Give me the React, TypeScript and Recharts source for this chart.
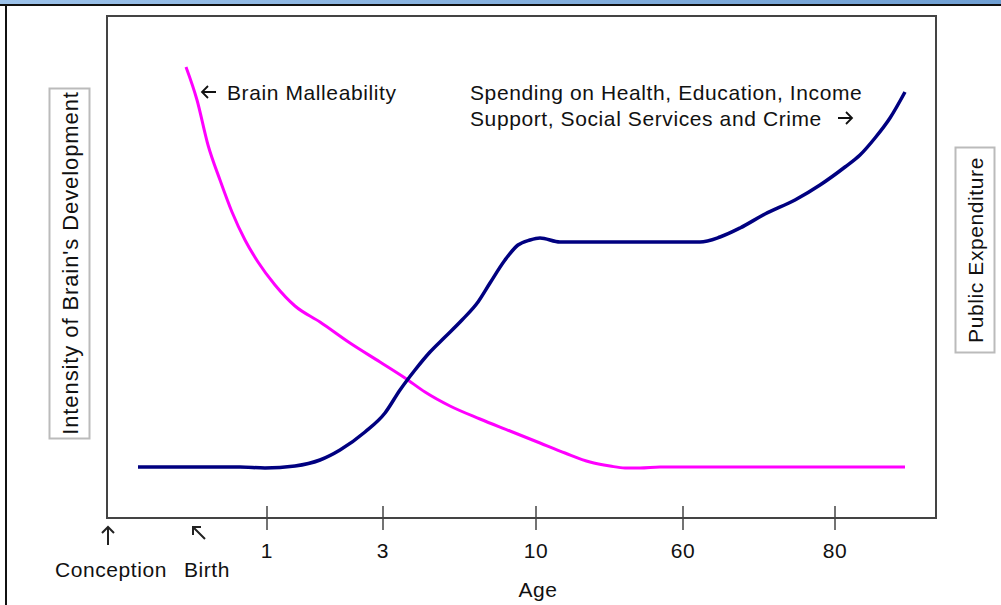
import React from 'react';
import { LineChart, Line, XAxis, YAxis, ReferenceArea } from 'recharts';

// x positions are on a 0..829 "age track" scale (non-linear age axis)
const brainX = [79, 90, 101, 113, 125, 138, 151, 168, 188, 213, 243, 273, 298, 318, 343, 373, 403, 433, 458, 483, 503, 518, 533, 553, 593, 693, 798];
const brainY = [451, 418, 373, 338, 306, 278, 256, 233, 212, 196, 175, 156, 140, 126, 112, 99, 87, 75, 65, 56, 52, 50, 50, 51, 51, 51, 51];

const spendX = [31, 133, 158, 188, 213, 233, 258, 278, 293, 308, 323, 338, 355, 371, 383, 398, 411, 423, 433, 453, 493, 593, 613, 633, 658, 688, 713, 738, 753, 768, 783, 798];
const spendY = [51, 51, 50, 52, 58, 68, 86, 105, 128, 148, 166, 181, 198, 216, 235, 258, 273, 278, 280, 276, 276, 276, 281, 290, 304, 318, 333, 351, 363, 380, 400, 426];

const tickPos = [1, 86, 160, 276, 429, 576, 728];
const tickLabels = ['Conception', 'Birth', '1', '3', '10', '60', '80'];

const brainData = brainX.map((x, i) => ({ x, y: brainY[i] }));
const spendData = spendX.map((x, i) => ({ x, y: spendY[i] }));

const FONT = '"Liberation Sans", Arial, sans-serif';
const LS = 0.6;

const AgeTick = (props: any) => {
    const { x, y, payload } = props;
    const idx = tickPos.indexOf(payload.value);
    const label = tickLabels[idx];
    if (idx === 0) {
        return (
            <g>
                <path d={`M${x},${y + 27} L${x},${y + 9} M${x - 6},${y + 15} L${x},${y + 9} L${x + 6},${y + 15}`} stroke="#222" strokeWidth={2} fill="none" />
                <text x={x + 3} y={y + 59} textAnchor="middle" fontSize={21} letterSpacing={LS} fill="#111" fontFamily={FONT}>{label}</text>
            </g>
        );
    }
    if (idx === 1) {
        return (
            <g>
                <path d={`M${x + 12},${y + 21} L${x},${y + 9} M${x},${y + 17} L${x},${y + 9} L${x + 8},${y + 9}`} stroke="#222" strokeWidth={2} fill="none" />
                <text x={x + 14} y={y + 59} textAnchor="middle" fontSize={21} letterSpacing={LS} fill="#111" fontFamily={FONT}>{label}</text>
            </g>
        );
    }
    return (
        <g>
            <line x1={x} x2={x} y1={y - 12} y2={y + 12} stroke="#444" strokeWidth={1.5} />
            <text x={x} y={y + 40} textAnchor="middle" fontSize={21} letterSpacing={LS} fill="#111" fontFamily={FONT}>{label}</text>
        </g>
    );
};

export default function App() {
    return (
        <div style={{ position: 'absolute', left: 0, top: 0, width: 1001, height: 605, background: '#fff', overflow: 'hidden' }}>
            <div style={{ position: 'absolute', left: 0, top: 0, width: 1001, height: 4, background: 'linear-gradient(to right, #9cc2ea, #6f9fd3)' }} />
            <div style={{ position: 'absolute', left: 0, top: 4, width: 1001, height: 2, background: '#111' }} />
            <div style={{ position: 'absolute', left: 5, top: 4, width: 2, height: 601, background: '#111' }} />
            <LineChart
                width={1001}
                height={605}
                data={brainData}
                margin={{ top: 16, right: 65, left: 107, bottom: 0 }}
            >
                <XAxis
                    type="number"
                    dataKey="x"
                    domain={[0, 829]}
                    ticks={tickPos}
                    tick={<AgeTick />}
                    tickSize={0}
                    tickMargin={0}
                    tickLine={false}
                    axisLine={false}
                    height={87}
                    interval={0}
                    allowDataOverflow
                />
                <YAxis type="number" domain={[0, 502]} hide allowDataOverflow />
                <ReferenceArea x1={0} x2={829} y1={0} y2={502} fill="none" stroke="#444" strokeWidth={2} ifOverflow="visible" />
                <Line data={brainData} dataKey="y" type="monotone" stroke="#ff00ff" strokeWidth={3} dot={false} isAnimationActive={false} />
                <Line data={spendData} dataKey="y" type="monotone" stroke="#000080" strokeWidth={3.5} dot={false} isAnimationActive={false} />
            </LineChart>
            <svg style={{ position: 'absolute', left: 0, top: 0, pointerEvents: 'none' }} width={1001} height={605}>
                <g stroke="#111" strokeWidth={1.8} fill="none">
                    <path d="M202,92 L216,92 M208,86 L202,92 L208,98" />
                    <path d="M838,118 L852,118 M846,112 L852,118 L846,124" />
                </g>
                <g fontFamily={FONT} fill="#111" fontSize={21} letterSpacing={LS}>
                    <text x={227} y={100}>Brain Malleability</text>
                    <text x={470} y={100}>Spending on Health, Education, Income</text>
                    <text x={470} y={126}>Support, Social Services and Crime</text>
                    <text x={538} y={597} textAnchor="middle">Age</text>
                </g>
                <rect x={49.5} y={88.5} width={40} height={350} fill="#fff" stroke="#bbb" strokeWidth={2} />
                <text x={0} y={0} transform="translate(78,263) rotate(-90)" textAnchor="middle" fontFamily={FONT} fontSize={22} letterSpacing={0.9} fill="#111">Intensity of Brain's Development</text>
                <rect x={955.5} y={147.5} width={39} height={205} fill="#fff" stroke="#bbb" strokeWidth={2} />
                <text x={0} y={0} transform="translate(983,250) rotate(-90)" textAnchor="middle" fontFamily={FONT} fontSize={21} letterSpacing={0.6} fill="#111">Public Expenditure</text>
            </svg>
        </div>
    );
}
